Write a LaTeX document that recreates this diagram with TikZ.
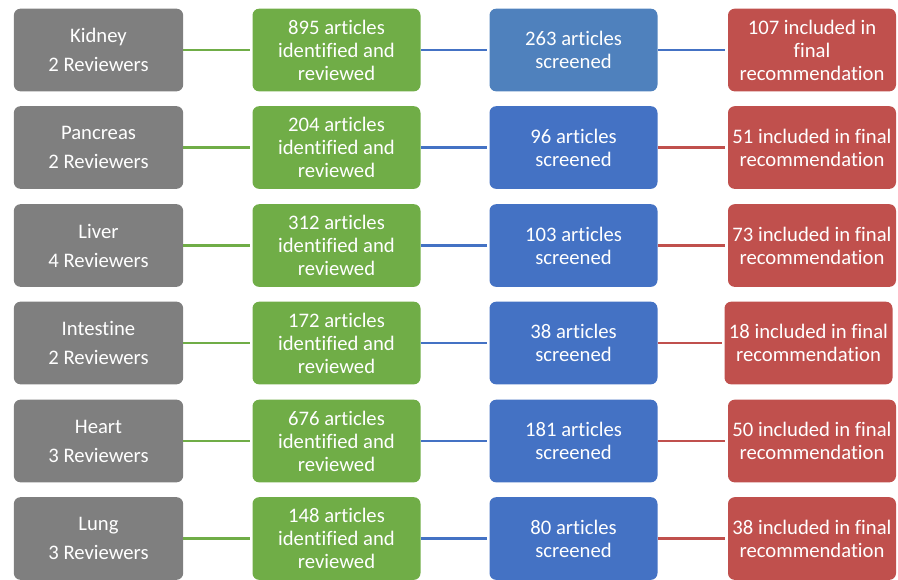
\documentclass[tikz,border=0pt]{standalone}
\usepackage{fontspec}
\setmainfont{Carlito}[Ligatures=NoCommon]
\usepackage{tikz}
\usetikzlibrary{positioning,calc}
\definecolor{organgray}{HTML}{7F7F7F}
\definecolor{idgreen}{HTML}{70AD47}
\definecolor{scrblue}{HTML}{4472C4}
\definecolor{scrsteel}{HTML}{4F81BD}
\definecolor{recred}{HTML}{C0504D}
\tikzset{box/.style={rectangle,rounded corners=5pt,draw=none,text=white,align=center,
    minimum width=126pt,minimum height=62pt,inner sep=0pt,
    font=\fontsize{15.5}{17.3}\selectfont}}
\tikzset{organ/.style={box,fill=organgray,minimum width=127pt}}
\tikzset{found/.style={box,fill=idgreen}}
\tikzset{screen/.style={box,fill=scrblue}}
\tikzset{final/.style={box,fill=recred}}
\tikzset{link/.style={line width=2.2pt,shorten >=2pt}}

\begin{document}
\begin{tikzpicture}[x=0.75pt, y=-0.75pt]
    \useasboundingbox (0,0) rectangle (898,579);
    % organ column
    \node[organ] (A1) at (98.5,50) {Kidney\\[4.5pt]2 Reviewers};
    \node[organ] (B1) at (98.5,147.5) {Pancreas\\[4.5pt]2 Reviewers};
    \node[organ] (C1) at (98.5,245.5) {Liver\\[4.5pt]4 Reviewers};
    \node[organ] (D1) at (98.5,343) {Intestine\\[4.5pt]2 Reviewers};
    \node[organ] (E1) at (98.5,441) {Heart\\[4.5pt]3 Reviewers};
    \node[organ] (F1) at (98.5,538.5) {Lung\\[4.5pt]3 Reviewers};

    % articles identified
    \node[found] (A2) at (336.5,50) {895 articles\\identified and\\reviewed};
    \node[found] (B2) at (336.5,147.5) {204 articles\\identified and\\reviewed};
    \node[found] (C2) at (336.5,245.5) {312 articles\\identified and\\reviewed};
    \node[found] (D2) at (336.5,343) {172 articles\\identified and\\reviewed};
    \node[found] (E2) at (336.5,441) {676 articles\\identified and\\reviewed};
    \node[found] (F2) at (336.5,538.5) {148 articles\\identified and\\reviewed};

    % screened
    \node[screen,fill=scrsteel] (A3) at (573.5,50) {263 articles\\screened};
    \node[screen] (B3) at (573.5,147.5) {96 articles\\screened};
    \node[screen] (C3) at (573.5,245.5) {103 articles\\screened};
    \node[screen] (D3) at (573.5,343) {38 articles\\screened};
    \node[screen] (E3) at (573.5,441) {181 articles\\screened};
    \node[screen] (F3) at (573.5,538.5) {80 articles\\screened};

    % final recommendation
    \node[final] (A4) at (812,50) {107 included in\\final\\recommendation};
    \node[final] (B4) at (812,147.5) {51 included in final\\recommendation};
    \node[final] (C4) at (812,245.5) {73 included in final\\recommendation};
    \node[final] (D4) at (808.5,343) {18 included in final\\recommendation};
    \node[final] (E4) at (812,441) {50 included in final\\recommendation};
    \node[final] (F4) at (812,538.5) {38 included in final\\recommendation};

    \foreach \r in {A,B,C,D,E,F} {
        \path[link,draw=idgreen] (\r1) edge (\r2);
        \path[link,draw=scrblue] (\r2) edge (\r3);
    }
    \path[link,draw=scrblue] (A3) edge (A4);
    \foreach \r in {B,C,D,E,F}
        \path[link,draw=recred] (\r3) edge (\r4);
\end{tikzpicture}
\end{document}
